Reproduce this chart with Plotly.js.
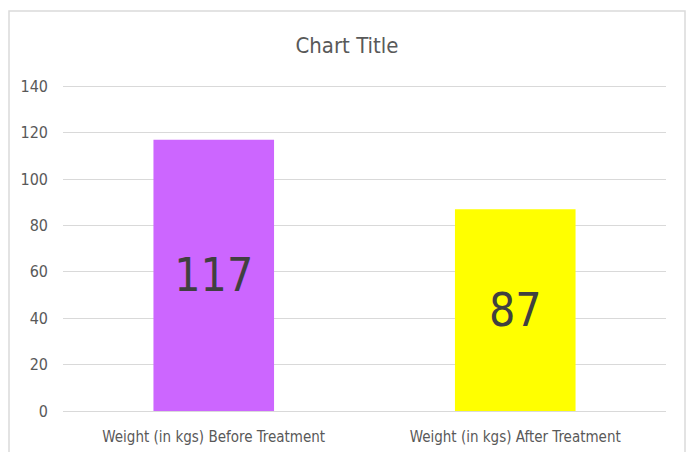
<!DOCTYPE html>
<html>
<head>
<meta charset="utf-8">
<script src="https://cdn.plot.ly/plotly-3.0.1.min.js"></script>
<style>
  html, body { margin: 0; padding: 0; background: #ffffff; }
  #chart { width: 690px; height: 452px; }
</style>
</head>
<body>
<div id="chart"></div>
<script>
// Weight before and after treatment
const categories = ['Weight (in kgs) Before Treatment', 'Weight (in kgs) After Treatment'];
const weights = [117, 87];
const barColors = ['#CC66FF', '#FFFF00'];
const yTicks = [0, 20, 40, 60, 80, 100, 120, 140];

const FONT = '"Liberation Sans Narrow", "DejaVu Sans Condensed", "Open Sans", sans-serif';
const GREY = '#595959';

const W = 690, H = 452;
const M = { l: 63, r: 24, t: 84, b: 41 };
const plotW = W - M.l - M.r, plotH = H - M.t - M.b;

// chart frame, expressed in paper units relative to the plot area
const px = x => (x - M.l) / plotW;
const py = y => (H - M.b - y) / plotH;

const trace = {
  type: 'bar',
  x: categories,
  y: weights,
  marker: { color: barColors, line: { width: 0 } },
  text: weights.map(String),
  textposition: 'inside',
  insidetextanchor: 'middle',
  constraintext: 'none',
  textfont: { family: FONT, size: 46, color: '#404040' },
  hoverinfo: 'x+y'
};

const layout = {
  width: W,
  height: H,
  margin: M,
  paper_bgcolor: '#ffffff',
  plot_bgcolor: '#ffffff',
  font: { family: FONT, color: GREY },
  showlegend: false,
  bargap: 0.6,
  title: {
    text: 'Chart Title',
    font: { family: FONT, size: 22, color: GREY },
    x: 347 / W, xref: 'container', xanchor: 'center',
    y: 1 - 45 / H, yref: 'container', yanchor: 'middle'
  },
  xaxis: {
    type: 'category',
    showgrid: false,
    showline: true,
    linecolor: '#d9d9d9',
    linewidth: 1,
    ticks: '',
    ticklabelstandoff: 12,
    tickfont: { family: FONT, size: 15, color: GREY },
    fixedrange: true
  },
  yaxis: {
    // a little headroom so the 140 gridline sits inside the plot area
    range: [0, 141],
    tickvals: yTicks,
    ticktext: yTicks.map(String),
    showgrid: true,
    gridcolor: '#d9d9d9',
    gridwidth: 1,
    zeroline: false,
    showline: false,
    ticks: '',
    ticklabelstandoff: 14,
    tickfont: { family: FONT, size: 16, color: GREY },
    fixedrange: true
  },
  shapes: [{
    type: 'rect',
    xref: 'paper', yref: 'paper',
    x0: px(9), x1: px(685),
    y0: py(470), y1: py(11),
    line: { color: '#dadada', width: 1.5 },
    fillcolor: 'rgba(0,0,0,0)',
    layer: 'below'
  }]
};

Plotly.newPlot('chart', [trace], layout, { displayModeBar: false, staticPlot: true });
</script>
</body>
</html>
